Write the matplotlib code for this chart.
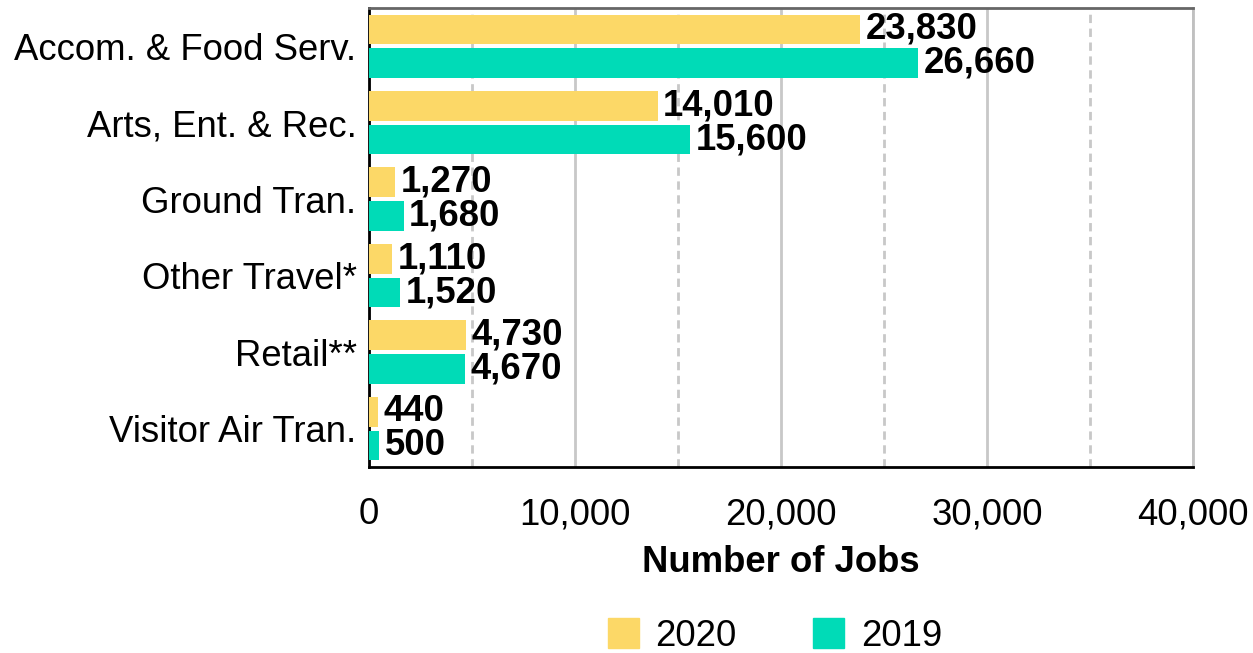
import matplotlib
matplotlib.use("Agg")
import matplotlib.pyplot as plt
import numpy as np
from matplotlib.patches import Patch
from matplotlib.ticker import FuncFormatter, MultipleLocator

plt.rcParams["font.family"] = ["Liberation Sans", "DejaVu Sans"]

categories = [
    "Accom. & Food Serv.",
    "Arts, Ent. & Rec.",
    "Ground Tran.",
    "Other Travel*",
    "Retail**",
    "Visitor Air Tran.",
]
jobs_2020 = [23830, 14010, 1270, 1110, 4730, 440]
jobs_2019 = [26660, 15600, 1680, 1520, 4670, 500]

color_2020 = "#FCD867"
color_2019 = "#00DBB7"
fs = 26.3

fig = plt.figure(figsize=(12.53, 6.53), dpi=100)
ax = fig.add_axes([0.2945, 0.285, 0.6575, 0.7027])

y = np.arange(len(categories))
h = 0.39
off = 0.22
bars20 = ax.barh(y - off, jobs_2020, height=h, color=color_2020, zorder=3)
bars19 = ax.barh(y + off, jobs_2019, height=h, color=color_2019, zorder=3)

# value labels just past the end of each bar
for bars, vals in ((bars20, jobs_2020), (bars19, jobs_2019)):
    for b, v in zip(bars, vals):
        ax.annotate(f"{v:,}", (b.get_width(), b.get_y() + b.get_height() / 2),
                    xytext=(4, 0), textcoords="offset points",
                    ha="left", va="center", fontsize=fs, fontweight="bold",
                    zorder=4)

ax.set_xlim(0, 40000)
ax.set_ylim(len(categories) - 0.5, -0.5)
ax.set_yticks(y)
ax.set_yticklabels(categories)
ax.xaxis.set_major_locator(MultipleLocator(10000))
ax.xaxis.set_minor_locator(MultipleLocator(5000))
ax.xaxis.set_major_formatter(FuncFormatter(lambda v, _: f"{int(v):,}"))
ax.tick_params(axis="x", which="both", length=0, pad=22, labelsize=fs)
ax.tick_params(axis="y", length=0, pad=9, labelsize=fs)

ax.grid(axis="x", which="major", color="#c8c8c8", linewidth=2, zorder=0)
ax.grid(axis="x", which="minor", color="#c8c8c8", linewidth=2,
        linestyle=(0, (3, 2)), zorder=0)
ax.grid(axis="y", visible=False)

for side, col in (("left", "black"), ("bottom", "black"),
                  ("top", "#666666"), ("right", "#c0c0c0")):
    ax.spines[side].set_color(col)
    ax.spines[side].set_linewidth(2)

ax.set_xlabel("Number of Jobs", fontsize=fs, fontweight="bold", labelpad=9)

handles = [Patch(color=color_2020, label="2020"),
           Patch(color=color_2019, label="2019")]
fig.legend(handles=handles, loc="center", bbox_to_anchor=(0.6185, 0.026),
           ncol=2, frameon=False, fontsize=fs, handlelength=0.85,
           handleheight=0.85, handletextpad=0.45, columnspacing=2.1,
           borderpad=0)

fig.savefig("out.png", dpi=100)
